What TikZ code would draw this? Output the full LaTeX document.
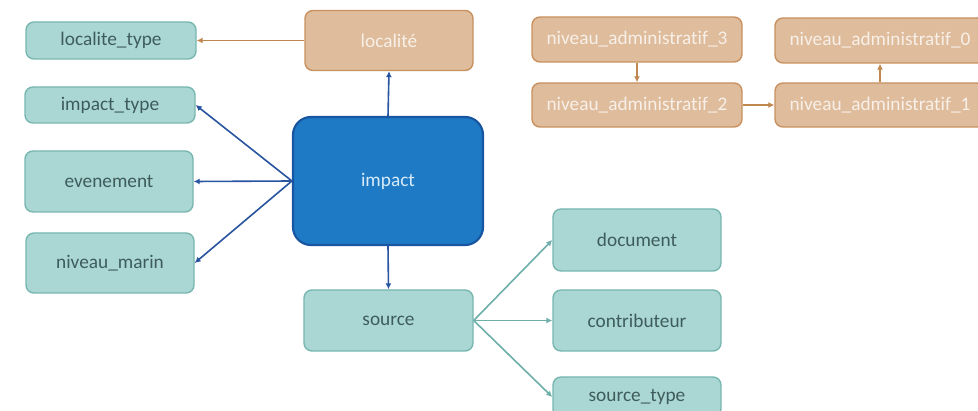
\documentclass[tikz,border=0pt]{standalone}
\usepackage{fontspec}
\setmainfont{Carlito}[Ligatures=NoCommon]
\usetikzlibrary{arrows.meta}
\definecolor{tealfill}{RGB}{170,215,212}
\definecolor{tealdraw}{RGB}{120,182,176}
\definecolor{tealtext}{RGB}{62,92,92}
\definecolor{tanfill}{RGB}{222,188,156}
\definecolor{tandraw}{RGB}{200,145,95}
\definecolor{tantext}{RGB}{248,240,232}
\definecolor{impfill}{RGB}{30,122,196}
\definecolor{impdraw}{RGB}{24,86,162}
\definecolor{imptext}{RGB}{215,235,250}
\definecolor{bluearrow}{RGB}{40,84,160}
\definecolor{tealarrow}{RGB}{110,175,170}
\definecolor{tanarrow}{RGB}{192,136,80}
\tikzset{
  base/.style={rounded corners=8pt, line width=1.4pt, inner sep=0pt, font=\fontsize{19.3}{22}\selectfont},
  tealbox/.style={base, fill=tealfill, draw=tealdraw, text=tealtext},
  tanbox/.style={base, fill=tanfill, draw=tandraw, text=tantext},
  impbox/.style={base, rounded corners=18pt, line width=2.2pt, fill=impfill, draw=impdraw, text=imptext},
  barrow/.style={draw=bluearrow, line width=1.6pt, -{Latex[length=6pt,width=6pt]}},
  tarrow/.style={draw=tealarrow, line width=1.6pt, -{Latex[length=6pt,width=6pt]}},
  narrow/.style={draw=tanarrow, line width=1.6pt, -{Latex[length=6pt,width=6pt]}},
}
\begin{document}
\begin{tikzpicture}[x=1pt,y=-1pt]
\useasboundingbox (0,0) rectangle (978,411);
\fill[white] (0,0) rectangle (978,411);
% teal left boxes
\node[tealbox, minimum width=170pt, minimum height=37pt] (lt) at (111,40.5) {localite\_type};
\node[tealbox, minimum width=170pt, minimum height=36pt] (it) at (110,105) {impact\_type};
\node[tealbox, minimum width=168pt, minimum height=61pt] (ev) at (109,181.5) {evenement};
\node[tealbox, minimum width=168pt, minimum height=60pt] (nm) at (110,263) {niveau\_marin};
% tan
\node[tanbox, minimum width=168pt, minimum height=60pt] (loc) at (389,40.5) {localité};
% impact
\node[impbox, minimum width=190pt, minimum height=128pt] (imp) at (388,181) {impact};
% source
\node[tealbox, minimum width=169pt, minimum height=61pt] (src) at (388.5,320.5) {source};
\node[tealbox, minimum width=168pt, minimum height=62pt] (doc) at (637,240) {document};
\node[tealbox, minimum width=168pt, minimum height=61pt] (con) at (637,320.5) {contributeur};
\node[tealbox, minimum width=168pt, minimum height=40pt] (st) at (637,397) {source\_type};
% niveaux
\node[tanbox, minimum width=210pt, minimum height=45pt] (n3) at (637,39.5) {niveau\_administratif\_3};
\node[tanbox, minimum width=210pt, minimum height=44pt] (n2) at (637,105) {niveau\_administratif\_2};
\node[tanbox, minimum width=210pt, minimum height=45pt] (n0) at (880,40.5) {niveau\_administratif\_0};
\node[tanbox, minimum width=210pt, minimum height=44pt] (n1) at (880,105) {niveau\_administratif\_1};
% arrows
\draw[narrow] (loc.west) -- (lt.east);
\draw[barrow] (imp.west) -- (it.east);
\draw[barrow] (imp.west) -- (ev.east);
\draw[barrow] (imp.west) -- (nm.east);
\draw[barrow] (imp.north) -- (loc.south);
\draw[barrow] (imp.south) -- (src.north);
\draw[tarrow] (src.east) -- (doc.west);
\draw[tarrow] (src.east) -- (con.west);
\draw[tarrow] (src.east) -- (st.west);
\draw[narrow] (n3.south) -- (n2.north);
\draw[narrow] (n2.east) -- (n1.west);
\draw[narrow] (n1.north) -- (n0.south);
\end{tikzpicture}
\end{document}
